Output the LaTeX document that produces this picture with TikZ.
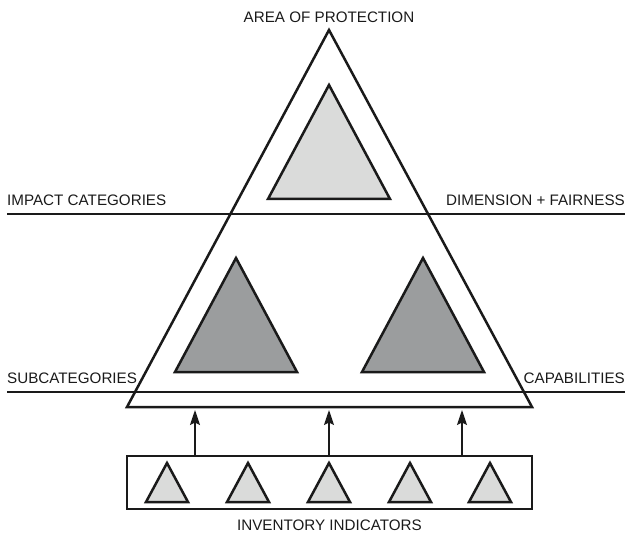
\documentclass[tikz,border=0pt]{standalone}
\usepackage{fontspec}
\setmainfont{Liberation Sans}
\usetikzlibrary{arrows.meta,positioning,calc}
\definecolor{tlight}{HTML}{DADBDA}
\definecolor{tdark}{HTML}{9B9D9E}
\definecolor{tline}{HTML}{1A1A1A}

\begin{document}
\begin{tikzpicture}[x=1pt,y=-1pt,
frame/.style={draw=tline,line width=2.5pt},
band/.style={draw=tline,line width=2pt},
arr/.style={draw=tline,line width=1.6pt},
lab/.style={inner sep=0pt,font=\fontsize{15.2}{18}\selectfont,text=tline}]
\useasboundingbox (0,0) rectangle (625,535);
\coordinate (apex) at (329,30);
\coordinate (bl) at (127,407);
\coordinate (br) at (532,407);
\draw[band] (7,214) -- (625,214);
\draw[band] (7,392) -- (625,392);
\draw[frame] (bl) -- (apex) -- (br) -- cycle;
\draw[frame,fill=tlight] (268,199) -- (329,85) -- (390,199) -- cycle;
\draw[frame,fill=tdark] (175,372) -- (236,258) -- (297,372) -- cycle;
\draw[frame,fill=tdark] (362,372) -- (423,258) -- (484,372) -- cycle;
\node[frame,minimum width=405pt,minimum height=53pt,inner sep=0pt] (inv) at (329.5,482.5) {};
\foreach \x in {167,248,329,410,490}
  \draw[frame,fill=tlight] (\x-21,502) -- (\x,463) -- (\x+21,502) -- cycle;
\foreach \x [count=\i] in {195,329,462} {
  \coordinate (t\i) at (\x,410);
  \draw[arr,-{Stealth[length=15pt,width=10pt,inset=2.5pt]}] (t\i |- inv.north) -- (t\i);
}
\node[lab,anchor=base] (aop) at (329,22.5) {AREA OF PROTECTION};
\node[lab,anchor=base west] (impact) at (7,206) {IMPACT CATEGORIES};
\node[lab,anchor=base east] (dimension) at (625,206) {DIMENSION + FAIRNESS};
\node[lab,anchor=base west] (subcat) at (7,383.5) {SUBCATEGORIES};
\node[lab,anchor=base east] (capab) at (625,383.5) {CAPABILITIES};
\node[lab,anchor=base] (invlab) at (329.5,530) {INVENTORY INDICATORS};
\end{tikzpicture}
\end{document}
